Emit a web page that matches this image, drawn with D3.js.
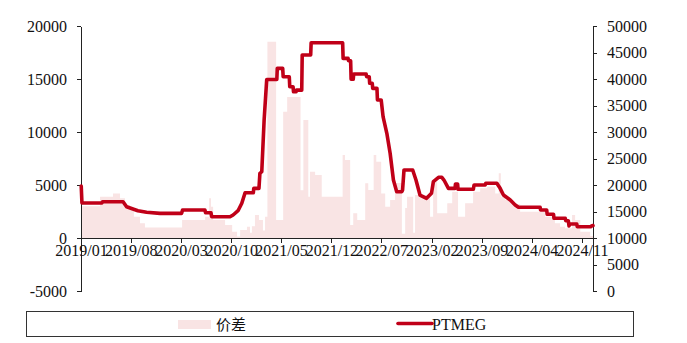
<!DOCTYPE html>
<html>
<head>
<meta charset="utf-8">
<script src="https://cdn.jsdelivr.net/npm/d3@7/dist/d3.min.js"></script>
<style>
  html, body { margin: 0; padding: 0; background: #fff; }
  svg { display: block; }
  .axis text { font-family: "Liberation Serif", "Times New Roman", serif; font-size: 16px; fill: #111; }
  .axis path, .axis line { stroke: #222; shape-rendering: crispEdges; }
</style>
</head>
<body>
<svg id="chart" width="687" height="343"></svg>
<script>
// PTMEG price (right axis)
const ptmegDates = [
  "2019-01-02","2019-01-05","2019-03-31","2019-04-03","2019-06-29","2019-07-14","2019-08-31","2019-10-07","2019-12-03",
  "2020-03-04","2020-03-08","2020-06-11","2020-06-14","2020-07-07","2020-07-10","2020-09-26","2020-10-09","2020-10-30",
  "2020-11-15","2020-11-29","2021-01-03","2021-01-05","2021-01-27","2021-01-31","2021-02-08","2021-02-18","2021-03-01",
  "2021-04-13","2021-04-15","2021-05-08","2021-05-10","2021-06-05","2021-06-07","2021-06-21","2021-06-23","2021-07-04",
  "2021-07-06","2021-07-28","2021-07-30","2021-09-04","2021-09-06","2022-01-18","2022-01-20","2022-02-10","2022-02-12",
  "2022-02-21","2022-02-23","2022-03-04","2022-03-06","2022-04-28","2022-04-30","2022-05-11","2022-05-13","2022-05-24",
  "2022-05-26","2022-06-13","2022-06-15","2022-07-01","2022-07-09","2022-07-25","2022-08-08","2022-08-22","2022-09-05",
  "2022-09-27","2022-09-30","2022-10-06","2022-11-12","2022-11-26","2022-12-13","2023-01-10","2023-01-31","2023-02-08",
  "2023-03-02","2023-03-16","2023-03-25","2023-04-13","2023-05-11","2023-05-13","2023-05-22","2023-05-24","2023-07-28",
  "2023-07-31","2023-09-16","2023-09-19","2023-11-05","2023-11-19","2023-12-03","2024-01-01","2024-01-22","2024-02-05",
  "2024-05-07","2024-05-09","2024-06-04","2024-06-06","2024-07-03","2024-07-05","2024-08-22","2024-08-24","2024-09-04",
  "2024-09-07","2024-09-10","2024-10-10","2024-10-12","2024-12-08","2024-12-12","2024-12-18"
];
const ptmegValues = [
  19800,16600,16600,16850,16850,15900,15150,14850,14650,
  14650,15280,15280,14770,14770,14000,14000,14340,15150,
  16550,18550,18550,19370,19370,22200,22500,32260,39900,
  39900,42000,42000,40430,40430,38550,38550,37600,37600,
  37900,37900,44530,44530,46850,46850,43900,43900,43450,
  43450,39950,39950,40940,40940,40430,40430,39190,39190,
  38240,38240,36040,36040,32900,29750,25980,20940,18740,
  18740,19060,22830,22830,20940,18110,17490,18430,20630,
  21450,21450,20940,19370,19370,20190,20190,19190,19190,
  20000,20000,20320,20320,19370,18110,17170,16230,15790,
  15790,15280,15280,14470,14470,13720,13720,13260,13260,
  12260,12640,12640,12130,12130,12260,12350
];

// Spread (left axis), each value holds until the next date
const spreadDates = [
  "2019-01-01","2019-03-23","2019-05-17","2019-06-16","2019-07-07","2019-07-28","2019-08-14","2019-09-09","2019-09-30",
  "2020-03-06","2020-06-12","2020-06-29","2020-07-07","2020-07-16","2020-09-05","2020-10-05","2020-10-26","2020-11-08",
  "2020-12-07","2020-12-20","2020-12-28","2021-01-10","2021-01-27","2021-02-13","2021-02-22","2021-03-04","2021-04-10",
  "2021-05-10","2021-05-27","2021-07-23","2021-08-04","2021-08-25","2021-09-01","2021-09-23","2021-10-21","2022-01-18",
  "2022-01-28","2022-02-19","2022-03-04","2022-03-21","2022-04-24","2022-05-07","2022-05-30","2022-06-10","2022-07-01",
  "2022-07-18","2022-08-08","2022-08-29","2022-09-27","2022-10-11","2022-10-19","2022-11-14","2022-11-22","2023-01-25",
  "2023-02-07","2023-02-24","2023-04-08","2023-04-29","2023-05-24","2023-06-23","2023-07-27","2023-08-26","2023-09-25",
  "2023-10-29","2023-11-13","2023-11-22","2023-12-10","2024-01-09","2024-02-12","2024-05-28","2024-07-09","2024-07-31",
  "2024-08-21","2024-09-20","2024-10-03","2024-10-25","2024-12-06","2024-12-18"
];
const spreadValues = [
  3000,3900,4200,3740,3100,2640,2000,1390,1000,
  1700,2000,3740,2950,1700,1230,600,150,750,
  1060,500,1100,2170,1700,700,2000,18520,1700,
  11900,13300,4500,11130,3900,6250,5940,3900,7830,
  7360,1230,2330,1700,5160,4530,7830,7200,4200,
  2950,3580,5190,400,2830,3900,500,4060,2000,
  5300,2330,3270,4370,2000,3270,4370,4690,4840,
  4200,6100,3900,3600,3200,2480,2000,1390,1070,
  915,2170,1700,600,200,200
];

const tickLabels = ["2019/01","2019/08","2020/03","2020/10","2021/05","2021/12",
                    "2022/07","2023/02","2023/09","2024/04","2024/11"];
const leftTicks = [-5000, 0, 5000, 10000, 15000, 20000];
const rightTicks = [0, 5000, 10000, 15000, 20000, 25000, 30000, 35000, 40000, 45000, 50000];
const seriesNames = ["价差", "PTMEG"];

const parse = d3.timeParse("%Y-%m-%d");
const parseTick = d3.timeParse("%Y/%m");

const svg = d3.select("#chart");
const plot = { left: 81, right: 593, top: 26, bottom: 291 };

const x = d3.scaleTime()
  .domain([parse("2019-01-01"), parse("2024-12-18")])
  .range([plot.left, plot.right]);
const yL = d3.scaleLinear().domain([-5000, 20000]).range([plot.bottom, plot.top]);
const yR = d3.scaleLinear().domain([0, 50000]).range([plot.bottom, plot.top]);

const spread = spreadDates.map((d, i) => ({ date: parse(d), v: spreadValues[i] }));
const ptmeg = ptmegDates.map((d, i) => ({ date: parse(d), v: ptmegValues[i] }));

const spreadColor = "#f9e4e4";
const lineColor = "#c00018";
const plain = d => String(d);   // keeps the ASCII hyphen for negatives

// spread as a stepped fill from zero
svg.append("path")
  .datum(spread)
  .attr("fill", spreadColor)
  .attr("d", d3.area()
    .x(d => x(d.date))
    .y0(yL(0))
    .y1(d => yL(d.v))
    .curve(d3.curveStepAfter));

// left axis
svg.append("g")
  .attr("class", "axis")
  .attr("transform", `translate(${plot.left},0)`)
  .call(d3.axisLeft(yL).tickValues(leftTicks).tickSize(4).tickSizeOuter(0).tickPadding(10).tickFormat(plain));

// right axis
svg.append("g")
  .attr("class", "axis")
  .attr("transform", `translate(${plot.right},0)`)
  .call(d3.axisRight(yR).tickValues(rightTicks).tickSize(4).tickSizeOuter(0).tickPadding(10).tickFormat(plain))
  .call(g => g.selectAll("path, line").attr("stroke", "#444"));

// date axis on the zero line
svg.append("g")
  .attr("class", "axis")
  .attr("transform", `translate(0,${yL(0)})`)
  .call(d3.axisBottom(x)
    .tickValues(tickLabels.map(parseTick))
    .tickFormat(d3.timeFormat("%Y/%m"))
    .tickSize(5).tickSizeOuter(0).tickPadding(2));

// PTMEG line
svg.append("path")
  .datum(ptmeg)
  .attr("fill", "none")
  .attr("stroke", lineColor)
  .attr("stroke-width", 3.6)
  .attr("stroke-linejoin", "round")
  .attr("stroke-linecap", "round")
  .attr("d", d3.line().x(d => x(d.date)).y(d => yR(d.v)));

// legend
const legend = svg.append("g");
legend.append("rect")
  .attr("x", 26.5).attr("y", 311.5).attr("width", 607).attr("height", 25)
  .attr("fill", "none").attr("stroke", "#333").attr("stroke-width", 1);
legend.append("rect")
  .attr("x", 178).attr("y", 320).attr("width", 33).attr("height", 9)
  .attr("fill", spreadColor);
legend.append("text")
  .attr("x", 216).attr("y", 329.5)
  .attr("font-family", "'Noto Sans CJK SC', sans-serif")
  .attr("font-size", 15).attr("fill", "#111")
  .text(seriesNames[0]);
legend.append("line")
  .attr("x1", 398).attr("x2", 432).attr("y1", 323.5).attr("y2", 323.5)
  .attr("stroke", lineColor).attr("stroke-width", 3.6).attr("stroke-linecap", "round");
legend.append("text")
  .attr("x", 432).attr("y", 329.5)
  .attr("font-family", "'Liberation Serif', 'Times New Roman', serif")
  .attr("font-size", 16).attr("fill", "#111")
  .text(seriesNames[1]);
</script>
</body>
</html>
